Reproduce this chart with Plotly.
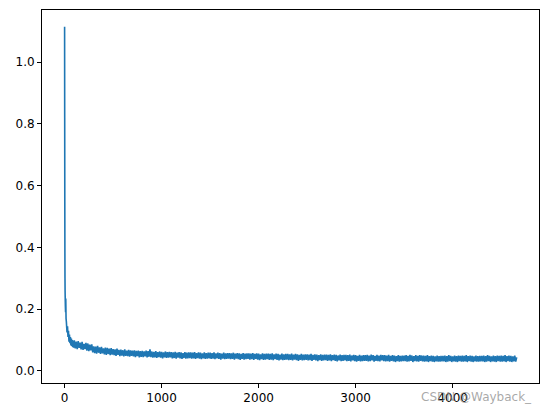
import plotly.graph_objects as go

# ---- data ----
head_steps = [0, 1, 2, 3, 4, 5, 6, 8, 10, 12, 15, 18, 20, 25, 30, 35, 40, 45, 50,
              55, 60, 65, 70, 75, 80, 85, 90, 95]
head_loss = [1.115, 0.82, 0.55, 0.38, 0.30, 0.26, 0.24, 0.21, 0.19, 0.235, 0.17, 0.16,
             0.15, 0.125, 0.145, 0.11, 0.13, 0.095, 0.118, 0.09, 0.11, 0.083, 0.105,
             0.08, 0.10, 0.077, 0.098, 0.075]

tail_steps = list(range(100, 4661, 10))
tail_loss = [
    0.099, 0.073, 0.095, 0.071, 0.097, 0.075, 0.092, 0.070, 0.094, 0.068, 0.088, 0.071, 0.091, 0.066, 0.089, 0.064, 0.085, 0.067, 0.086, 0.060,
    0.080, 0.058, 0.079, 0.056, 0.081, 0.059, 0.076, 0.055, 0.078, 0.057, 0.073, 0.054, 0.076, 0.052, 0.075, 0.055, 0.072, 0.051, 0.074, 0.053,
    0.071, 0.051, 0.070, 0.049, 0.072, 0.052, 0.068, 0.048, 0.069, 0.050, 0.067, 0.047, 0.070, 0.049, 0.066, 0.048, 0.068, 0.046, 0.067, 0.049,
    0.066, 0.047, 0.067, 0.045, 0.065, 0.048, 0.066, 0.044, 0.064, 0.046, 0.065, 0.045, 0.063, 0.047, 0.066, 0.044, 0.064, 0.046, 0.070, 0.045,
    0.063, 0.043, 0.062, 0.044, 0.064, 0.042, 0.061, 0.045, 0.063, 0.043, 0.062, 0.041, 0.060, 0.044, 0.063, 0.042, 0.061, 0.043, 0.062, 0.044,
    0.061, 0.041, 0.060, 0.042, 0.062, 0.040, 0.059, 0.043, 0.061, 0.041, 0.060, 0.039, 0.058, 0.042, 0.061, 0.040, 0.059, 0.041, 0.060, 0.042,
    0.060, 0.040, 0.059, 0.041, 0.061, 0.039, 0.058, 0.042, 0.060, 0.040, 0.059, 0.038, 0.057, 0.041, 0.060, 0.039, 0.058, 0.040, 0.059, 0.041,
    0.059, 0.039, 0.058, 0.040, 0.060, 0.038, 0.057, 0.041, 0.059, 0.039, 0.058, 0.037, 0.056, 0.040, 0.059, 0.038, 0.057, 0.039, 0.058, 0.040,
    0.058, 0.038, 0.057, 0.039, 0.059, 0.037, 0.056, 0.040, 0.058, 0.038, 0.057, 0.036, 0.055, 0.039, 0.058, 0.037, 0.056, 0.038, 0.057, 0.039,
    0.057, 0.037, 0.056, 0.038, 0.058, 0.036, 0.055, 0.039, 0.057, 0.037, 0.056, 0.035, 0.054, 0.038, 0.057, 0.036, 0.055, 0.037, 0.056, 0.038,
    0.056, 0.036, 0.055, 0.037, 0.057, 0.035, 0.054, 0.038, 0.056, 0.036, 0.055, 0.034, 0.053, 0.037, 0.056, 0.035, 0.054, 0.036, 0.055, 0.037,
    0.055, 0.035, 0.054, 0.036, 0.056, 0.034, 0.053, 0.037, 0.055, 0.035, 0.054, 0.033, 0.052, 0.036, 0.055, 0.034, 0.053, 0.035, 0.054, 0.036,
    0.054, 0.034, 0.053, 0.035, 0.055, 0.033, 0.052, 0.036, 0.054, 0.034, 0.053, 0.032, 0.051, 0.035, 0.054, 0.033, 0.052, 0.034, 0.053, 0.035,
    0.053, 0.033, 0.052, 0.034, 0.054, 0.032, 0.051, 0.035, 0.053, 0.033, 0.052, 0.031, 0.050, 0.034, 0.053, 0.032, 0.051, 0.033, 0.052, 0.034,
    0.052, 0.032, 0.051, 0.033, 0.053, 0.031, 0.050, 0.034, 0.052, 0.032, 0.051, 0.030, 0.049, 0.033, 0.052, 0.031, 0.050, 0.032, 0.051, 0.033,
    0.051, 0.033, 0.052, 0.031, 0.050, 0.032, 0.053, 0.034, 0.051, 0.030, 0.049, 0.033, 0.052, 0.032, 0.050, 0.031, 0.052, 0.034, 0.051, 0.032,
    0.051, 0.031, 0.050, 0.032, 0.052, 0.030, 0.049, 0.033, 0.051, 0.031, 0.050, 0.029, 0.048, 0.032, 0.051, 0.030, 0.049, 0.031, 0.050, 0.032,
    0.050, 0.032, 0.051, 0.030, 0.049, 0.031, 0.052, 0.033, 0.050, 0.029, 0.048, 0.032, 0.051, 0.031, 0.049, 0.030, 0.051, 0.033, 0.050, 0.031,
    0.050, 0.030, 0.049, 0.031, 0.051, 0.029, 0.048, 0.032, 0.050, 0.030, 0.049, 0.029, 0.047, 0.031, 0.050, 0.030, 0.048, 0.030, 0.049, 0.031,
    0.049, 0.031, 0.050, 0.029, 0.048, 0.030, 0.051, 0.032, 0.049, 0.029, 0.047, 0.031, 0.050, 0.030, 0.048, 0.029, 0.050, 0.032, 0.049, 0.030,
    0.050, 0.030, 0.049, 0.031, 0.051, 0.029, 0.048, 0.032, 0.050, 0.030, 0.049, 0.029, 0.047, 0.031, 0.050, 0.030, 0.048, 0.030, 0.049, 0.031,
    0.049, 0.031, 0.050, 0.029, 0.048, 0.030, 0.051, 0.032, 0.049, 0.029, 0.047, 0.031, 0.050, 0.030, 0.048, 0.029, 0.050, 0.032, 0.049, 0.030,
    0.050, 0.030, 0.049, 0.031, 0.051, 0.029, 0.048, 0.032, 0.050, 0.030, 0.049, 0.029, 0.047, 0.031, 0.050, 0.030, 0.044,
]

x_ticks = [0, 1000, 2000, 3000, 4000]
y_ticks = [0.0, 0.2, 0.4, 0.6, 0.8, 1.0]
y_tick_text = ["0.0", "0.2", "0.4", "0.6", "0.8", "1.0"]

steps = head_steps + tail_steps
loss = head_loss + tail_loss

fig = go.Figure()
fig.add_trace(go.Scatter(x=steps, y=loss, mode="lines",
                         line=dict(color="#1f77b4", width=1.6, simplify=False),
                         showlegend=False))

axis_common = dict(showline=True, linecolor="black", linewidth=1, mirror=True,
                   ticks="outside", ticklen=4, tickcolor="black", tickwidth=1,
                   showgrid=False, zeroline=False,
                   tickfont=dict(family="DejaVu Sans", size=12, color="black"))

fig.update_xaxes(range=[-233, 4890], tickvals=x_ticks, **axis_common)
fig.update_yaxes(range=[-0.039, 1.169], tickvals=y_ticks, ticktext=y_tick_text,
                 **axis_common)

fig.add_annotation(text="CSDN @Wayback_", xref="paper", yref="paper",
                   x=0.99, y=-0.038, xanchor="right", yanchor="middle",
                   showarrow=False,
                   font=dict(family="DejaVu Sans", size=12, color="rgba(140,140,140,0.75)"))

fig.update_layout(width=547, height=413,
                  margin=dict(l=42, r=8, t=10, b=30, autoexpand=False),
                  paper_bgcolor="white", plot_bgcolor="white")

fig.write_html("out.html", config={"displayModeBar": False},
               post_script="document.body.style.margin='0';document.body.style.overflow='hidden';")
